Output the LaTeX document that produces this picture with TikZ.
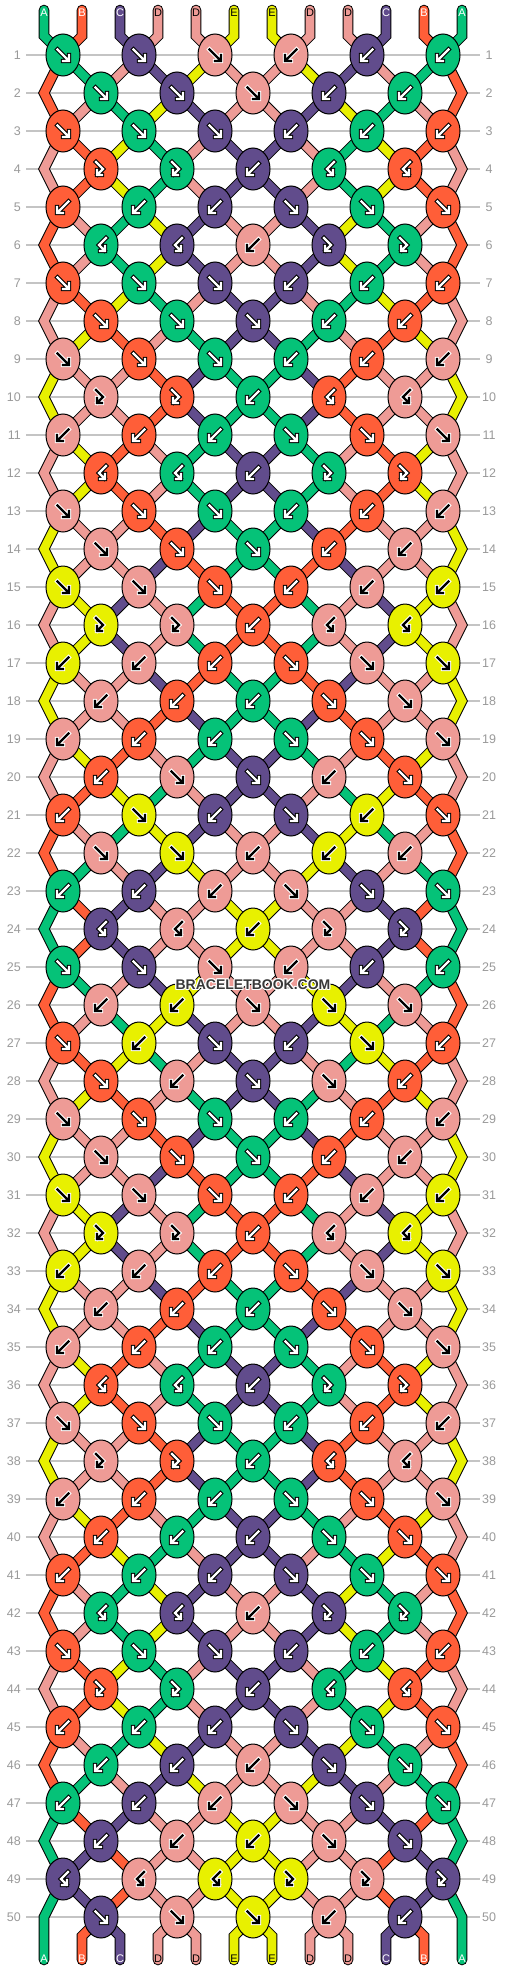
\documentclass[tikz,border=0pt]{standalone}
\usepackage{fontspec}
\setmainfont{Liberation Sans}
\definecolor{cG}{HTML}{05C278}
\definecolor{cO}{HTML}{FF5E38}
\definecolor{cP}{HTML}{614C8C}
\definecolor{cK}{HTML}{EE9B96}
\definecolor{cY}{HTML}{E8F000}
\colorlet{fgG}{white}\colorlet{fgO}{white}\colorlet{fgP}{white}
\colorlet{fgK}{black}\colorlet{fgY}{black}
\colorlet{bgG}{black}\colorlet{bgO}{black}\colorlet{bgP}{black}
\colorlet{bgK}{white}\colorlet{bgY}{white}
\definecolor{gridgray}{HTML}{C4C4C4}
\definecolor{numgray}{HTML}{9A9A9A}
\tikzset{
 tube/.style={draw=black, line width=1pt, double=c#1, double distance=8.6pt, line join=miter, line cap=round},
 knotshape/.style={fill=c#1, draw=black, line width=1pt},
 arrbg/.style={draw=bg#1, line width=4.4pt, line join=miter, line cap=rect},
 arrfg/.style={draw=fg#1, line width=2.4pt, line join=miter, line cap=rect},
 rownum/.style={text=numgray, font=\fontsize{12.5}{12.5}\selectfont, inner sep=0pt},
 strlab/.style={font=\fontsize{11}{11}\selectfont, inner sep=0pt},
}
\newcommand\arrF[1]{\draw[arrbg=#1] (-5.5,-5.5)--(5,5) (0,6)--(6,6)--(6,0);\draw[arrfg=#1] (-5.5,-5.5)--(5,5) (0,6)--(6,6)--(6,0);}
\newcommand\arrB[1]{\draw[arrbg=#1] (5.5,-5.5)--(-5,5) (0,6)--(-6,6)--(-6,0);\draw[arrfg=#1] (5.5,-5.5)--(-5,5) (0,6)--(-6,6)--(-6,0);}
\newcommand\arrX[1]{\draw[arrbg=#1] (-5,-7)--(2,0)--(-3.5,5.5) (1,6)--(-4,6)--(-4,1);\draw[arrfg=#1] (-5,-7)--(2,0)--(-3.5,5.5) (1,6)--(-4,6)--(-4,1);}
\newcommand\arrZ[1]{\draw[arrbg=#1] (5,-7)--(-2,0)--(3.5,5.5) (-1,6)--(4,6)--(4,1);\draw[arrfg=#1] (5,-7)--(-2,0)--(3.5,5.5) (-1,6)--(4,6)--(4,1);}
\newcommand\knotat[4]{%
 \pgfmathsetmacro\kx{63+38*#2}%
 \pgfmathsetmacro\ky{17+38*#1}%
 \path[knotshape=#3] (\kx,\ky) ellipse [x radius=17, y radius=21];%
 \begin{scope}[shift={(\kx,\ky)}]\csname arr#4\endcsname{#3}\end{scope}}
\newcommand\allsegs{%
\foreach \r/\st in {0/{G,O,P,K,K,Y},1/{O,G,K,P,Y,K},2/{O,K,G,Y,P,K},3/{K,O,Y,G,K,P},4/{K,O,Y,G,K,P},
5/{O,K,G,Y,P,K},6/{O,K,G,Y,P,K},7/{K,O,Y,G,K,P},8/{K,Y,O,K,G,P},9/{Y,K,K,O,P,G},
10/{Y,K,K,O,P,G},11/{K,Y,O,K,G,P},12/{K,Y,O,K,G,P},13/{Y,K,K,O,P,G},14/{Y,K,K,P,O,G},
15/{K,Y,P,K,G,O},16/{K,Y,P,K,G,O},17/{Y,K,K,P,O,G},18/{Y,K,K,O,P,G},19/{K,Y,O,K,G,P},
20/{K,O,Y,G,K,P},21/{O,K,G,Y,P,K},22/{O,G,K,P,Y,K},23/{G,O,P,K,K,Y},24/{G,O,P,K,K,Y},
25/{O,G,K,P,Y,K},26/{O,K,G,Y,P,K},27/{K,O,Y,G,K,P},28/{K,Y,O,K,G,P},29/{Y,K,K,O,P,G},
30/{Y,K,K,P,O,G},31/{K,Y,P,K,G,O},32/{K,Y,P,K,G,O},33/{Y,K,K,P,O,G},34/{Y,K,K,O,P,G},
35/{K,Y,O,K,G,P},36/{K,Y,O,K,G,P},37/{Y,K,K,O,P,G},38/{Y,K,K,O,P,G},39/{K,Y,O,K,G,P},
40/{K,O,Y,G,K,P},41/{O,K,G,Y,P,K},42/{O,K,G,Y,P,K},43/{K,O,Y,G,K,P},44/{K,O,Y,G,K,P},
45/{O,K,G,Y,P,K},46/{O,G,K,P,Y,K},47/{G,O,P,K,K,Y},48/{G,P,O,K,K,Y},49/{G,P,O,K,K,Y},
50/{G,O,P,K,K,Y}}{%
 \foreach \c [count=\p] in \st {%
  \pgfmathtruncatemacro\ya{17+38*\r}%
  \pgfmathtruncatemacro\yb{\ya+38}%
  \pgfmathtruncatemacro\yc{\ya+76}%
  \pgfmathtruncatemacro\xp{6+38*\p}%
  \pgfmathtruncatemacro\xo{63+76*floor((\p-1)/2)}%
  \pgfmathtruncatemacro\xe{63+38*(2*floor(\p/2)-1)}%
  \ifnum\p=1
    \ifnum\r=0 \draw[tube=\c] (44,10)--(44,36)--(63,55);\fi
    \ifodd\r
      \ifnum\r<49 \draw[tube=\c] (63,\ya)--(44,\yb)--(63,\yc);%
      \else \draw[tube=\c] (63,\ya)--(44,\yb)--(44,1960);\fi
    \fi
  \else
    \ifnum\r=0 \draw[tube=\c] (\xp,10)--(\xp,36)--(\xo,55);%
    \else\ifnum\r=50 \draw[tube=\c] (\xe,\ya)--(\xp,1936)--(\xp,1960);%
    \else\ifodd\r \draw[tube=\c] (\xo,\ya)--(\xe,\yb);%
    \else \draw[tube=\c] (\xe,\ya)--(\xo,\yb);%
    \fi\fi\fi
  \fi
 }}}
\newcommand\allknots{%
\foreach \r/\k/\c/\t in {1/0/G/F,1/2/P/F,1/4/K/F, 2/1/G/F,2/3/P/F, 3/0/O/F,3/2/G/F,3/4/P/F,
4/1/O/X,4/3/G/X, 5/0/O/B,5/2/G/B,5/4/P/B, 6/1/G/Z,6/3/P/Z, 7/0/O/F,7/2/G/F,7/4/P/F,
8/1/O/F,8/3/G/F, 9/0/K/F,9/2/O/F,9/4/G/F, 10/1/K/X,10/3/O/X, 11/0/K/B,11/2/O/B,11/4/G/B,
12/1/O/Z,12/3/G/Z, 13/0/K/F,13/2/O/F,13/4/G/F, 14/1/K/F,14/3/O/F, 15/0/Y/F,15/2/K/F,15/4/O/F,
16/1/Y/X,16/3/K/X, 17/0/Y/B,17/2/K/B,17/4/O/B, 18/1/K/B,18/3/O/B, 19/0/K/B,19/2/O/B,19/4/G/B,
20/1/O/B,20/3/K/F, 21/0/O/B,21/2/Y/F,21/4/P/B, 22/1/K/F,22/3/Y/F, 23/0/G/B,23/2/P/B,23/4/K/B,
24/1/P/Z,24/3/K/Z, 25/0/G/F,25/2/P/F,25/4/K/F, 26/1/K/B,26/3/Y/B, 27/0/O/F,27/2/Y/B,27/4/P/F,
28/1/O/F,28/3/K/B, 29/0/K/F,29/2/O/F,29/4/G/F, 30/1/K/F,30/3/O/F, 31/0/Y/F,31/2/K/F,31/4/O/F,
32/1/Y/X,32/3/K/X, 33/0/Y/B,33/2/K/B,33/4/O/B, 34/1/K/B,34/3/O/B, 35/0/K/B,35/2/O/B,35/4/G/B,
36/1/O/Z,36/3/G/Z, 37/0/K/F,37/2/O/F,37/4/G/F, 38/1/K/X,38/3/O/X, 39/0/K/B,39/2/O/B,39/4/G/B,
40/1/O/B,40/3/G/B, 41/0/O/B,41/2/G/B,41/4/P/B, 42/1/G/Z,42/3/P/Z, 43/0/O/F,43/2/G/F,43/4/P/F,
44/1/O/X,44/3/G/X, 45/0/O/B,45/2/G/B,45/4/P/B, 46/1/G/B,46/3/P/B, 47/0/G/B,47/2/P/B,47/4/K/B,
48/1/P/B,48/3/K/B, 49/0/P/Z,49/2/K/Z,49/4/Y/Z, 50/1/P/F,50/3/K/F}{\knotat{\r}{\k}{\c}{\t}}}
\begin{document}
\begin{tikzpicture}[x=1pt,y=-1pt]
\useasboundingbox (0,0) rectangle (506,1972);
\fill[white] (0,0) rectangle (506,1972);
% grid lines and row numbers
\foreach \r in {1,...,50}{%
  \draw[gridgray, line width=1.2pt] (26,{17+38*\r}) -- (480,{17+38*\r});
  \node[rownum, anchor=east] (ln\r) at (21,{17+38*\r}) {\r};
  \node[rownum] (rn\r) at (489,{17+38*\r}) {\r};
}
% strands
\allsegs
\begin{scope}[xshift=506pt, xscale=-1]\allsegs\end{scope}
% knots
\allknots
\begin{scope}[xshift=506pt, xscale=-1]\allknots\end{scope}
\foreach \r/\c/\t in {2/K/F,4/P/B,6/K/B,8/P/F,10/G/B,12/P/B,14/G/F,16/O/B,18/G/B,20/P/F,
22/K/B,24/Y/B,26/K/F,28/P/F,30/G/F,32/O/B,34/G/B,36/P/B,38/G/B,40/P/B,42/K/B,44/P/B,
46/K/B,48/Y/B,50/Y/F}{\knotat{\r}{5}{\c}{\t}}
% string labels
\foreach \l/\tc [count=\i] in {A/white,B/white,C/white,D/black,D/black,E/black,E/black,D/black,D/black,C/white,B/white,A/white}{%
  \node[strlab, text=\tc] (tl\i) at ({6+38*\i},13) {\l};
  \node[strlab, text=\tc] (bl\i) at ({6+38*\i},1959) {\l};
}
% watermark
\foreach \dx/\dy in {-1/0,1/0,0/-1,0/1,-1/-1,1/1,-1/1,1/-1}{%
  \node[font=\bfseries\fontsize{14}{14}\selectfont, text=white, inner sep=0pt] at (253+\dx,985+\dy) {BRACELETBOOK.COM};
}
\node[font=\bfseries\fontsize{14}{14}\selectfont, text=black!78, inner sep=0pt] (wm) at (253,985) {BRACELETBOOK.COM};
\end{tikzpicture}
\end{document}
